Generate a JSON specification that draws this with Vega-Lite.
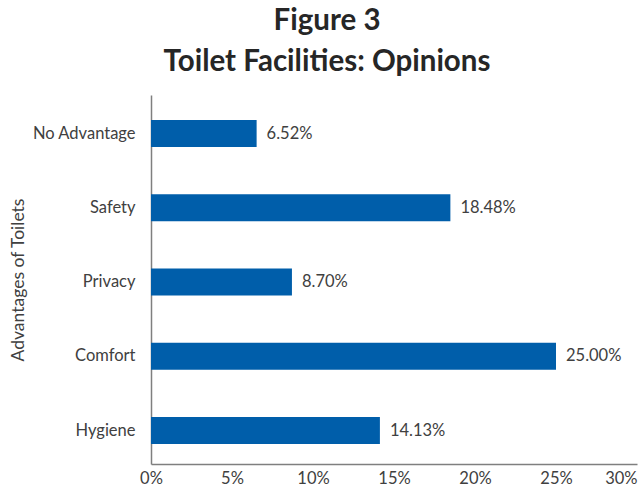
{
  "$schema": "https://vega.github.io/schema/vega-lite/v6.json",
  "autosize": "none",
  "width": 486,
  "height": 369,
  "padding": {"left": 151, "top": 95, "right": 2, "bottom": 24},
  "background": "white",
  "config": {"view": {"stroke": null}, "font": "Lato"},
  "title": {
    "text": ["Figure 3", "Toilet Facilities: Opinions"],
    "font": "Lato",
    "fontSize": 29.5,
    "fontWeight": "bold",
    "color": "#262626",
    "lineHeight": 41,
    "anchor": "middle",
    "dx": -67,
    "offset": 18
  },
  "data": {
    "values": [
      {"advantage": "No Advantage", "share": 0.0652},
      {"advantage": "Safety", "share": 0.1848},
      {"advantage": "Privacy", "share": 0.087},
      {"advantage": "Comfort", "share": 0.25},
      {"advantage": "Hygiene", "share": 0.1413}
    ]
  },
  "encoding": {
    "y": {
      "field": "advantage",
      "type": "nominal",
      "sort": null,
      "scale": {"paddingInner": 0.636, "paddingOuter": 0.303, "align": 0.556},
      "axis": {
        "title": "Advantages of Toilets",
        "titleFont": "Lato",
        "titleFontSize": 17.5,
        "titleFontWeight": "normal",
        "titleColor": "#404040",
        "titlePadding": 4,
        "labelFont": "Lato",
        "labelFontSize": 16.5,
        "labelColor": "#404040",
        "labelPadding": 16,
        "ticks": false,
        "domainColor": "#7f7f7f",
        "domainWidth": 1.5
      }
    },
    "x": {
      "field": "share",
      "type": "quantitative",
      "scale": {"domain": [0, 0.3], "nice": false},
      "axis": {
        "title": null,
        "values": [0, 0.05, 0.1, 0.15, 0.2, 0.25, 0.3],
        "format": ".0%",
        "grid": false,
        "ticks": false,
        "labelFont": "Lato",
        "labelFontSize": 16.5,
        "labelColor": "#404040",
        "labelPadding": 6,
        "labelFlush": false,
        "labelAlign": {"condition": {"test": "datum.value >= 0.3", "value": "right"}, "value": "center"},
        "domainColor": "#7f7f7f",
        "domainWidth": 1.5
      }
    }
  },
  "layer": [
    {"mark": {"type": "bar", "color": "#005EAA"}},
    {
      "mark": {"type": "text", "align": "left", "dx": 10, "font": "Lato", "fontSize": 16.5, "color": "#404040"},
      "encoding": {"text": {"field": "share", "type": "quantitative", "format": ".2%"}}
    }
  ]
}
